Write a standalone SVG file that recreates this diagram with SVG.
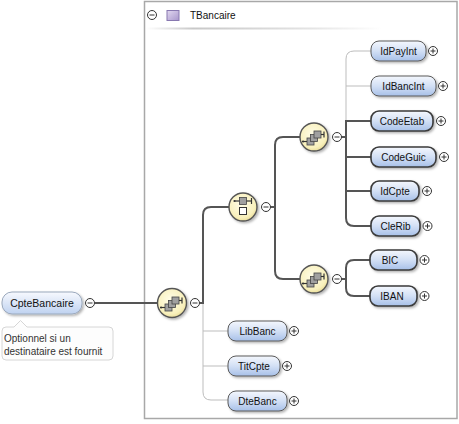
<svg xmlns="http://www.w3.org/2000/svg" width="459" height="424" viewBox="0 0 459 424">
<defs>
<linearGradient id="gNode" x1="0" y1="0" x2="0" y2="1">
<stop offset="0" stop-color="#f4f7fd"/>
<stop offset="0.5" stop-color="#d3e0f5"/>
<stop offset="1" stop-color="#a7c0e8"/>
</linearGradient>
<linearGradient id="gRoot" x1="0" y1="0" x2="0" y2="1">
<stop offset="0" stop-color="#f7f9fe"/>
<stop offset="1" stop-color="#bfd2f0"/>
</linearGradient>
<radialGradient id="gComp" cx="0.45" cy="0.4" r="0.6">
<stop offset="0" stop-color="#fffde8"/>
<stop offset="0.8" stop-color="#f8f0bc"/>
<stop offset="1" stop-color="#ebdf9c"/>
</radialGradient>
<linearGradient id="gType" x1="0" y1="0" x2="1" y2="1">
<stop offset="0" stop-color="#e2d8f0"/>
<stop offset="1" stop-color="#a896cc"/>
</linearGradient>
<linearGradient id="gRule" x1="0" y1="0" x2="1" y2="0">
<stop offset="0" stop-color="#ffffff"/>
<stop offset="0.2" stop-color="#c8c8c8"/>
<stop offset="0.7" stop-color="#e4e4e4"/>
<stop offset="1" stop-color="#ffffff"/>
</linearGradient>
<filter id="sh" x="-20%" y="-20%" width="150%" height="160%">
<feDropShadow dx="1.5" dy="1.5" stdDeviation="1" flood-color="#000" flood-opacity="0.3"/>
</filter>
<g id="seqIcon">
<line x1="-11" y1="4.5" x2="-7" y2="4.5" stroke="#333" stroke-width="1.2"/>
<circle cx="-11" cy="4.5" r="1.1" fill="#333"/>
<rect x="-7" y="1" width="7" height="7" fill="#a0a0a0" stroke="#444" stroke-width="0.8"/>
<rect x="-3.5" y="-2.5" width="7" height="7" fill="#a0a0a0" stroke="#444" stroke-width="0.8"/>
<rect x="0" y="-6" width="7" height="7" fill="#a0a0a0" stroke="#444" stroke-width="0.8"/>
<line x1="7" y1="-2.5" x2="10" y2="-2.5" stroke="#333" stroke-width="1.2"/>
<line x1="10" y1="-5.5" x2="10" y2="0.5" stroke="#333" stroke-width="1.2"/>
</g>
<g id="choIcon">
<line x1="-8.5" y1="-6" x2="8.5" y2="-6" stroke="#333" stroke-width="1.2"/>
<circle cx="-8.5" cy="-6" r="1.1" fill="#333"/>
<line x1="8.5" y1="-9" x2="8.5" y2="-3" stroke="#333" stroke-width="1.2"/>
<rect x="-3.5" y="-9.5" width="7" height="7" fill="#a0a0a0" stroke="#444" stroke-width="0.8"/>
<rect x="-3.5" y="0.5" width="7" height="7" fill="#fff" stroke="#333" stroke-width="1"/>
</g>
<g id="minus">
<circle r="4.5" fill="#fff" stroke="#333" stroke-width="1"/>
<line x1="-2.5" y1="0" x2="2.5" y2="0" stroke="#333" stroke-width="1"/>
</g>
<g id="plus">
<circle r="4.5" fill="#fff" stroke="#333" stroke-width="1"/>
<line x1="-2.5" y1="0" x2="2.5" y2="0" stroke="#333" stroke-width="1"/>
<line x1="0" y1="-2.5" x2="0" y2="2.5" stroke="#333" stroke-width="1"/>
</g>
</defs>
<style>
.box{fill:#fff;stroke:#a8a8a8;stroke-width:1.5}
.el{fill:url(#gNode);stroke:#3a3a3a;stroke-width:1.6;filter:url(#sh)}
.opt{fill:url(#gNode);stroke:#5a5a5a;stroke-width:1;filter:url(#sh)}
.lbl{font-family:"Liberation Sans",Arial,sans-serif;font-size:10px;fill:#111;text-anchor:middle}
.comp{fill:url(#gComp);stroke:#555;stroke-width:1.4;filter:url(#sh)}
.dark{fill:none;stroke:#555;stroke-width:2}
.light{fill:none;stroke:#bdbdbd;stroke-width:1}
.note{font-family:"Liberation Sans",Arial,sans-serif;font-size:10px;fill:#333}
</style>
<rect width="459" height="424" fill="#fff"/>

<g id="type-TBancaire">
<rect class="box" x="144.5" y="1.5" width="312.5" height="417"/>
<use href="#minus" x="152" y="15"/>
<rect x="167" y="10.5" width="12" height="10" fill="url(#gType)" stroke="#8878b0" stroke-width="1"/>
<text x="190" y="19" style="font-family:'Liberation Sans',Arial,sans-serif;font-size:10px;fill:#111">TBancaire</text>
<rect x="146" y="27.5" width="236" height="2" fill="url(#gRule)"/>
</g>

<g id="connectors">
<path class="light" d="M203,303 V392 Q203,400 211,400 H228 M203,331 H228 M203,366 H228"/>
<path class="light" d="M346,121 V59 Q346,51 354,51 H371 M346,86 H371"/>
<path class="dark" d="M95,303 H157"/>
<path class="dark" d="M199.5,303 H203 V215 Q203,207 211,207 H229"/>
<path class="dark" d="M270.5,207 H275"/>
<path class="dark" d="M300,137 H283 Q275,137 275,145 V271 Q275,279 283,279 H300"/>
<path class="dark" d="M341.5,137 H346"/>
<path class="dark" d="M371,121 H346 V218 Q346,226 354,226 H371 M346,157 H371 M346,191 H371"/>
<path class="dark" d="M341.5,279 H346"/>
<path class="dark" d="M370,260 H354 Q346,260 346,268 V288 Q346,296 354,296 H370"/>
</g>

<g id="CpteBancaire">
<rect x="2" y="292" width="80" height="22" rx="10" fill="url(#gRoot)" stroke="#9aa8bc" stroke-width="1" filter="url(#sh)"/>
<text class="lbl" x="42" y="307" style="font-size:10.5px">CpteBancaire</text>
<use href="#minus" x="90" y="303"/>
</g>

<g id="annotation">
<path d="M6,327 H14 L20.5,320.5 L27,327 H109 Q113,327 113,331 V356 Q113,360 109,360 H6 Q2,360 2,356 V331 Q2,327 6,327 Z" fill="#fdfdfd" stroke="#d6d6d6" stroke-width="1"/>
<text class="note" x="4" y="342">Optionnel si un</text>
<text class="note" x="4" y="355">destinataire est fournit</text>
</g>

<g id="seq1">
<circle class="comp" cx="172" cy="303" r="14.5"/>
<use href="#seqIcon" x="172" y="303"/>
<use href="#minus" x="195" y="303"/>
</g>

<g id="choice">
<circle class="comp" cx="243" cy="207" r="14"/>
<use href="#choIcon" x="243" y="207"/>
<use href="#minus" x="266" y="207"/>
</g>

<g id="seq2">
<circle class="comp" cx="314" cy="137" r="14"/>
<use href="#seqIcon" x="314" y="137"/>
<use href="#minus" x="337" y="137"/>
</g>

<g id="seq3">
<circle class="comp" cx="314" cy="279" r="14"/>
<use href="#seqIcon" x="314" y="279"/>
<use href="#minus" x="337" y="279"/>
</g>

<g id="IdPayInt"><rect class="opt" x="371" y="41" width="55" height="20" rx="8"/><text class="lbl" x="398.5" y="55">IdPayInt</text><use href="#plus" x="433" y="51"/></g>
<g id="IdBancInt"><rect class="opt" x="371" y="76" width="65" height="20" rx="8"/><text class="lbl" x="403.5" y="90">IdBancInt</text><use href="#plus" x="443" y="86"/></g>
<g id="CodeEtab"><rect class="el" x="371" y="111" width="62" height="20" rx="8"/><text class="lbl" x="402" y="125">CodeEtab</text><use href="#plus" x="441" y="121"/></g>
<g id="CodeGuic"><rect class="el" x="371" y="147" width="65" height="20" rx="8"/><text class="lbl" x="403.5" y="161">CodeGuic</text><use href="#plus" x="444" y="157"/></g>
<g id="IdCpte"><rect class="el" x="371" y="181" width="48" height="20" rx="8"/><text class="lbl" x="395" y="195">IdCpte</text><use href="#plus" x="427" y="191"/></g>
<g id="CleRib"><rect class="el" x="371" y="216" width="49" height="20" rx="8"/><text class="lbl" x="395.5" y="230">CleRib</text><use href="#plus" x="427.5" y="226"/></g>
<g id="BIC"><rect class="el" x="370" y="250" width="47" height="20" rx="8"/><text class="lbl" x="390" y="264">BIC</text><use href="#plus" x="424.5" y="260"/></g>
<g id="IBAN"><rect class="el" x="370" y="286" width="47" height="20" rx="8"/><text class="lbl" x="392" y="300">IBAN</text><use href="#plus" x="424.5" y="296"/></g>
<g id="LibBanc"><rect class="opt" x="228" y="321" width="59" height="20" rx="8"/><text class="lbl" x="257.5" y="335">LibBanc</text><use href="#plus" x="294" y="331"/></g>
<g id="TitCpte"><rect class="opt" x="228" y="356" width="52" height="20" rx="8"/><text class="lbl" x="254" y="370">TitCpte</text><use href="#plus" x="287" y="366"/></g>
<g id="DteBanc"><rect class="opt" x="228" y="391" width="59" height="20" rx="8"/><text class="lbl" x="257.5" y="405">DteBanc</text><use href="#plus" x="294" y="401"/></g>
</svg>
